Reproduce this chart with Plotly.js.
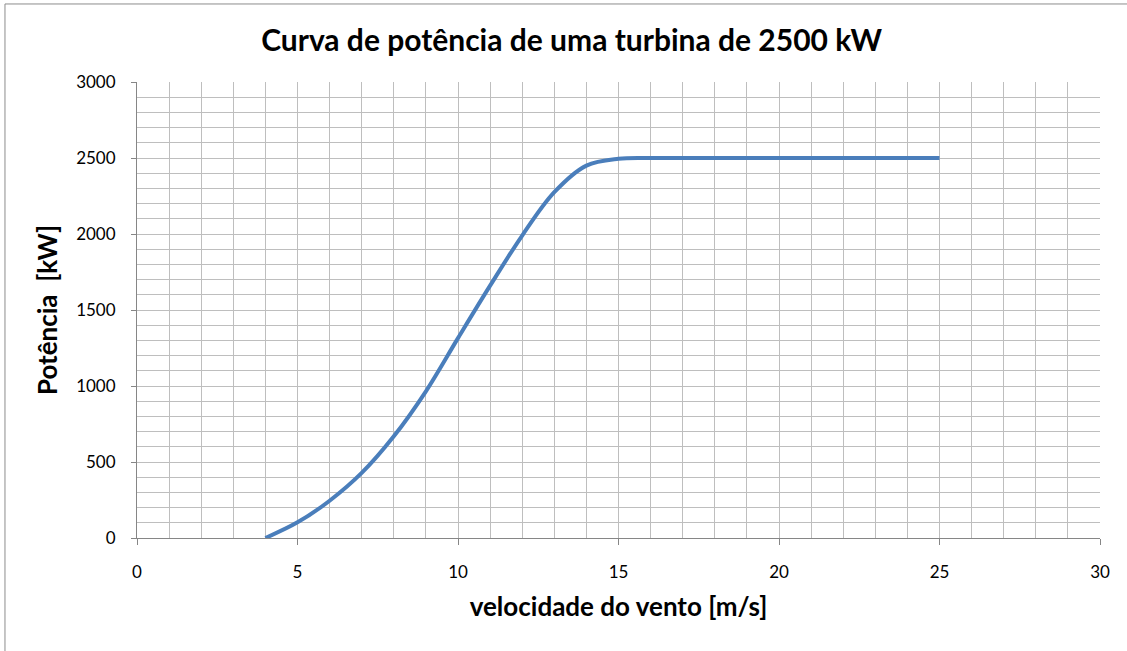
<!DOCTYPE html>
<html>
<head>
<meta charset="utf-8">
<script src="https://cdn.plot.ly/plotly-3.0.1.min.js"></script>
<style>
  body { margin: 0; background: #fff; }
  #chart { width: 1127px; height: 651px; }
</style>
</head>
<body>
<div id="chart"></div>
<script>
// wind speed [m/s] and power [kW]
var wind_speed = [4, 5, 6, 7, 8, 9, 10, 11, 12, 13, 14, 15, 16, 17, 18, 19, 20, 21, 22, 23, 24, 25];
var power_kw = [0, 103, 245, 428, 669, 965, 1315, 1660, 1990, 2275, 2450, 2495, 2500, 2500, 2500, 2500, 2500, 2500, 2500, 2500, 2500, 2500];

var chart_title = 'Curva de potência de uma turbina de 2500 kW';
var x_title = 'velocidade do vento [m/s]';
var y_title = 'Potência\u00a0\u00a0[kW]';

var gridGrey = '#bebebe';
var axisGrey = '#868686';
var fontFamily = 'Lato, "Open Sans", sans-serif';

var curve = {
  x: wind_speed,
  y: power_kw,
  type: 'scatter',
  mode: 'lines',
  line: {color: '#4a7ebb', width: 4, shape: 'spline', smoothing: 1},
  hoverinfo: 'x+y'
};

var layout = {
  width: 1127,
  height: 651,
  margin: {l: 137, r: 27, t: 82, b: 113},
  paper_bgcolor: '#ffffff',
  plot_bgcolor: '#ffffff',
  showlegend: false,
  font: {family: fontFamily, color: '#000000', size: 17},
  title: {
    text: chart_title,
    font: {family: fontFamily, size: 30, color: '#000000', weight: 'bold'},
    xref: 'container', x: 0.5072, xanchor: 'center',
    yref: 'container', y: 0.938, yanchor: 'middle'
  },
  xaxis: {
    range: [0, 30],
    dtick: 5,
    tick0: 0,
    showline: true,
    linecolor: axisGrey,
    linewidth: 1,
    ticks: 'outside',
    ticklen: 6,
    tickcolor: axisGrey,
    ticklabelstandoff: 13,
    showgrid: true,
    gridcolor: gridGrey,
    gridwidth: 1,
    zeroline: false,
    minor: {dtick: 1, showgrid: true, gridcolor: gridGrey, gridwidth: 1},
    tickfont: {size: 17},
    title: {
      text: x_title,
      font: {family: fontFamily, size: 26, weight: 'bold'},
      standoff: 16
    }
  },
  yaxis: {
    range: [0, 3000],
    dtick: 500,
    tick0: 0,
    showline: true,
    linecolor: axisGrey,
    linewidth: 1,
    ticks: 'outside',
    ticklen: 5,
    tickcolor: axisGrey,
    ticklabelstandoff: 12,
    showgrid: true,
    gridcolor: gridGrey,
    gridwidth: 1,
    zeroline: false,
    minor: {dtick: 100, showgrid: true, gridcolor: gridGrey, gridwidth: 1},
    tickfont: {size: 17},
    title: {
      text: y_title,
      font: {family: fontFamily, size: 26, weight: 'bold'},
      standoff: 11
    }
  },
  shapes: [{
    // chart frame, only its left and top edges fall inside the picture
    type: 'rect',
    xref: 'paper', yref: 'paper',
    x0: -0.1371, x1: 1.2,
    y0: -0.5, y1: 1.1711,
    line: {color: '#8c8c8c', width: 1},
    layer: 'below'
  }]
};

Plotly.newPlot('chart', [curve], layout, {displayModeBar: false, staticPlot: true});
</script>
</body>
</html>
